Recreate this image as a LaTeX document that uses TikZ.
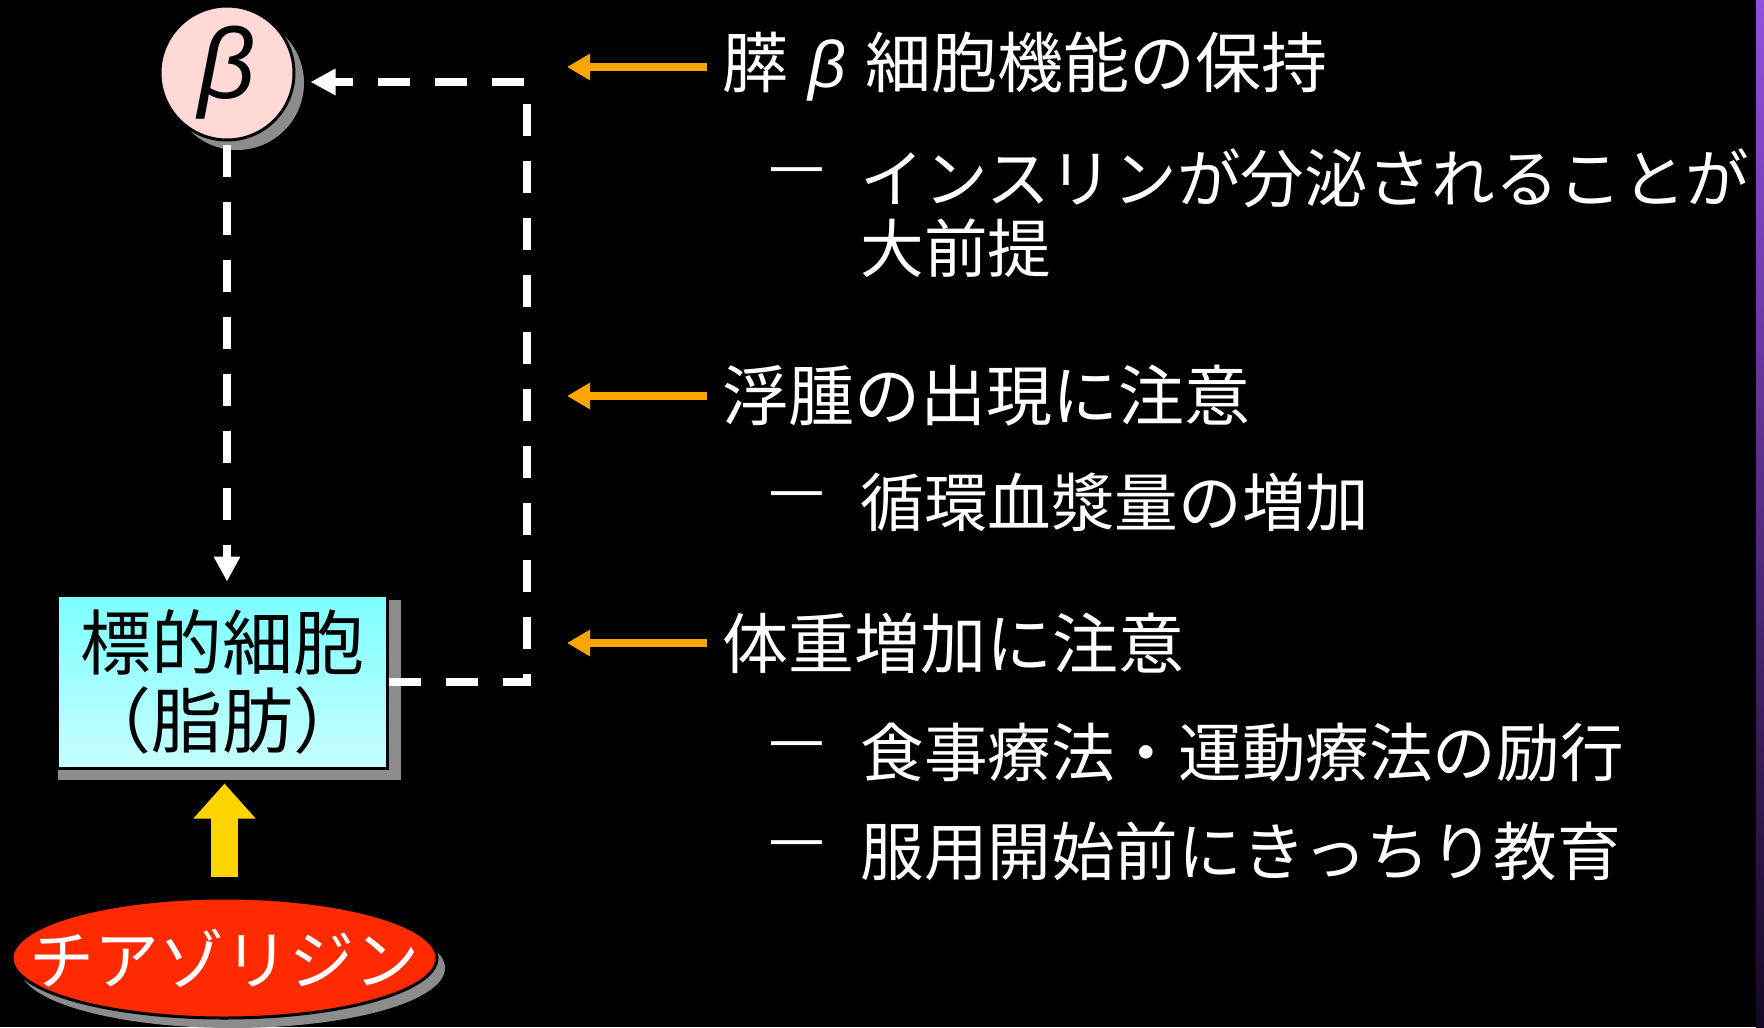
\documentclass[tikz,border=0pt]{standalone}
\usepackage{fontspec}
\setmainfont{Noto Sans CJK JP}
\newfontfamily\grkfont{Liberation Sans}
\usetikzlibrary{shapes.geometric, arrows.meta, positioning, calc, shadows}
\usepackage{xcolor}

\definecolor{betapink}{HTML}{FFD9D5}
\definecolor{celltop}{HTML}{7DFFFF}
\definecolor{cellbottom}{HTML}{C8FFFF}
\definecolor{drugred}{HTML}{FF2A00}
\definecolor{fatgold}{HTML}{FFD500}
\definecolor{notearrow}{HTML}{FFA500}
\definecolor{shadowgray}{HTML}{8C8C8C}
\definecolor{bartop}{HTML}{9450DF}
\definecolor{barmid}{HTML}{55297F}
\definecolor{barbottom}{HTML}{150825}

\begin{document}
\begin{tikzpicture}[x=0.5pt, y=-0.5pt,
  betacell/.style={circle, draw=black, line width=1.5pt, fill=betapink, minimum size=67pt,
    inner sep=0pt, font=\fontsize{50pt}{50pt}\selectfont\grkfont\itshape,
    drop shadow={shadow xshift=5pt, shadow yshift=-5pt, fill=shadowgray, opacity=1}},
  targetbox/.style={rectangle, draw=black, line width=1.5pt, top color=celltop, bottom color=cellbottom,
    minimum width=165pt, minimum height=86.5pt, align=center, inner sep=0pt,
    font=\fontsize{35.5pt}{39pt}\selectfont,
    drop shadow={shadow xshift=3.75pt, shadow yshift=-4.25pt, shadow scale=1.04, fill=shadowgray, opacity=1}},
  drugbox/.style={ellipse, draw=black, line width=1.5pt, fill=drugred, minimum width=212.5pt,
    minimum height=60pt, inner sep=0pt, text=white, font=\fontsize{32.5pt}{32.5pt}\selectfont,
    drop shadow={shadow xshift=4pt, shadow yshift=-5pt, fill=shadowgray, opacity=1}},
  headline/.style={anchor=west, inner sep=0pt, text=white, align=left,
    font=\fontsize{33pt}{35pt}\selectfont},
  subline/.style={anchor=west, inner sep=0pt, text=white, align=left,
    font=\fontsize{31.8pt}{35pt}\selectfont},
  dasharrow/.style={draw=white, line width=4pt, dash pattern=on 16pt off 12.5pt,
    -{Triangle[length=12.5pt, width=12.5pt]}},
  notearrowstyle/.style={draw=notearrow, line width=4pt, shorten <=7.5pt,
    -{Triangle[length=11.5pt, width=12.5pt]}},
  fatarrow/.style={draw=fatgold, line width=13.5pt, shorten <=10pt, shorten >=7pt,
    -{Triangle[length=17.5pt, width=30pt]}}
]

% background
\fill[black] (0,0) rectangle (1764,1027);
\shade[top color=bartop, middle color=barmid, bottom color=barbottom] (1756,0) rectangle (1764,1027);
\useasboundingbox (0,0) rectangle (1764,1027);

% cells
\node (beta) [betacell] at (227,73) {β};
\node (target) [targetbox] at (222,681.5) {標的細胞\\（脂肪）};
\node (drug) [drugbox] at (224.5,958) {\makebox[0pt]{チアゾリジン}};

% notes
\node (h1) [headline] at (722,67) {膵\hspace{0.3em}{\grkfont\itshape β}\hspace{0.3em}細胞機能の保持};
\node (d1) [subline] at (768,178) {—};
\node (s1) [subline] at (860,213) {インスリンが分泌されることが\\大前提};
\node (h2) [headline] at (722,396) {浮腫の出現に注意};
\node (d2) [subline] at (768,502) {—};
\node (s2) [subline] at (860,502) {循環血漿量の増加};
\node (h3) [headline] at (722,643) {体重増加に注意};
\node (d3) [subline] at (768,752) {—};
\node (s3) [subline] at (860,752) {食事療法・運動療法の励行};
\node (d4) [subline] at (768,851) {—};
\node (s4) [subline] at (860,851) {服用開始前にきっちり教育};

% arrows
\coordinate (bend) at (527,82);
\coordinate (tipx) at (567,0);
\draw [dasharrow, shorten <=2pt, shorten >=6pt] (beta.south) -- (beta.south |- target.north);
\draw [dasharrow, shorten >=7.5pt] (target.east) -| (bend) -- (bend -| beta.east);
\draw [notearrowstyle] (h1.west) -- (h1.west -| tipx);
\draw [notearrowstyle] (h2.west) -- (h2.west -| tipx);
\draw [notearrowstyle] (h3.west) -- (h3.west -| tipx);
\draw [fatarrow] (drug.north) -- (drug.north |- target.south);

\end{tikzpicture}
\end{document}
